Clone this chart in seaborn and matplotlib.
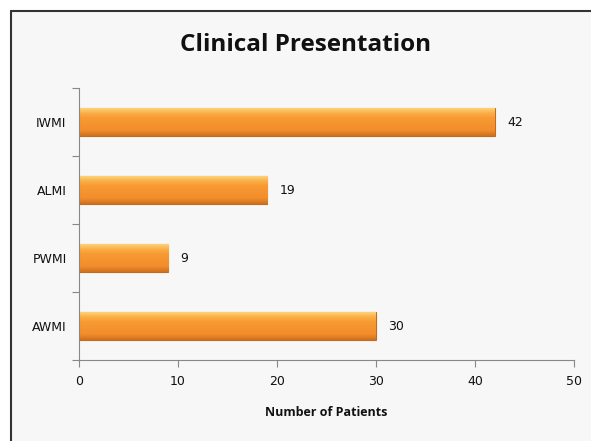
import matplotlib
matplotlib.use("Agg")
import matplotlib.pyplot as plt
import seaborn as sns
import pandas as pd
import numpy as np
from matplotlib.lines import Line2D
from matplotlib.colors import LinearSegmentedColormap

categories = ["IWMI", "ALMI", "PWMI", "AWMI"]
patients = [42, 19, 9, 30]
x_ticks = [0, 10, 20, 30, 40, 50]

df = pd.DataFrame({"Presentation": categories, "Patients": patients})

sns.set_theme(style="white")
plt.rcParams["font.family"] = ["DejaVu Sans"]

fig = plt.figure(figsize=(5.91, 4.41), dpi=100)
fig.patch.set_facecolor("white")
bg = matplotlib.patches.Rectangle((11 / 591, 0), 1, 1 - 11 / 441, transform=fig.transFigure,
                                  facecolor="#f7f7f7", edgecolor="none", zorder=-10)
fig.add_artist(bg)
fig.add_artist(Line2D([11 / 591, 1], [1 - 11 / 441, 1 - 11 / 441], transform=fig.transFigure,
                      color="#333333", lw=1.5))
fig.add_artist(Line2D([11 / 591, 11 / 591], [0, 1 - 11 / 441], transform=fig.transFigure,
                      color="#333333", lw=1.5))

ax = fig.add_axes([79 / 591, 81 / 441, 495 / 591, 272 / 441])
ax.set_facecolor("none")

sns.barplot(data=df, y="Presentation", x="Patients", orient="h", ax=ax,
            color="#F7963A", edgecolor="#C46A1E", linewidth=0.8, width=0.41, saturation=1)

cmap = LinearSegmentedColormap.from_list(
    "g", [(0.0, "#FDD27A"), (0.18, "#FAAE45"), (0.35, "#F89A33"), (0.8, "#F28D2B"), (1.0, "#CF701E")])
grad = np.linspace(0, 1, 64).reshape(-1, 1)
for p in ax.patches:
    x0, y0 = p.get_x(), p.get_y()
    w, h = p.get_width(), p.get_height()
    im = ax.imshow(grad, cmap=cmap, aspect="auto", extent=[x0, x0 + w, y0 + h, y0],
                   origin="upper", zorder=p.get_zorder() + 0.1)
    im.set_clip_path(p)

for c in ax.containers:
    ax.bar_label(c, padding=9, fontsize=9, color="#111111")

ax.set_xlim(0, 50)
ax.set_ylim(3.5, -0.5)
ax.set_xticks(x_ticks)
ax.set_xticklabels([str(t) for t in x_ticks])
ax.set_yticks(np.arange(len(categories)))
ax.set_yticklabels(categories)
ax.set_yticks(np.arange(-0.5, len(categories), 1), minor=True)
ax.tick_params(axis="y", which="major", left=False, length=0, labelsize=9, labelcolor="#111111", pad=9)
ax.tick_params(axis="y", which="minor", left=True, length=5, width=0.8, color="#888888", direction="out")
ax.tick_params(axis="x", which="major", bottom=True, length=5, width=0.8, color="#888888",
               direction="out", labelsize=9, labelcolor="#111111", pad=6)

for s in ["top", "right"]:
    ax.spines[s].set_visible(False)
for s in ["left", "bottom"]:
    ax.spines[s].set_color("#888888")
    ax.spines[s].set_linewidth(0.8)

ax.set_ylabel("")
ax.set_xlabel("Number of Patients", fontsize=9, fontweight="bold", family="Open Sans",
              color="#111111", labelpad=13)
fig.text(0.517, 1 - 45 / 441, "Clinical Presentation", ha="center", va="center",
         fontsize=17.5, fontweight="bold", family="Open Sans", color="#111111")

fig.savefig("out.png", dpi=100)
